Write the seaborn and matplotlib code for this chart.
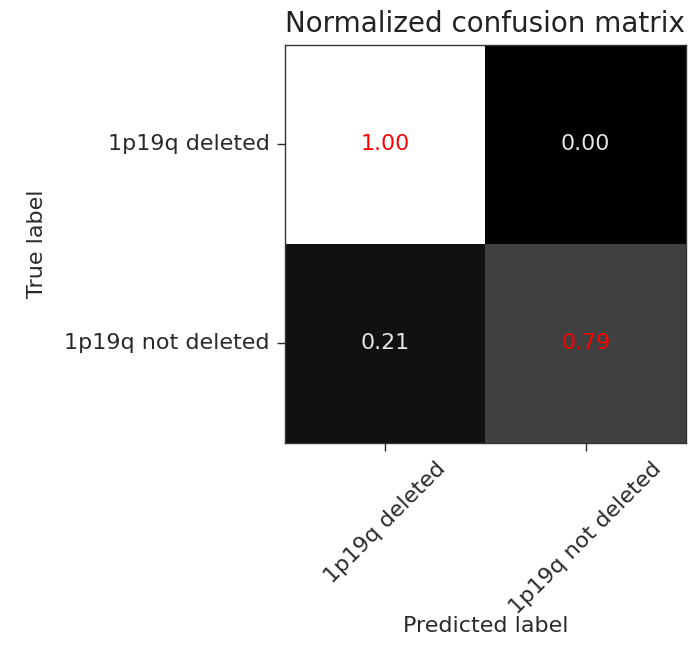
import matplotlib
matplotlib.use('Agg')
import matplotlib.pyplot as plt
import seaborn as sns
import numpy as np

classes = ['1p19q deleted', '1p19q not deleted']
# raw counts drive the grey shading, normalized values are printed
counts = np.array([[60, 0],
                   [4, 15]])
normalized = np.array([[1.00, 0.00],
                       [0.21, 0.79]])

fig = plt.figure(figsize=(6.88, 6.59), dpi=100)
ax = fig.add_axes([0.414, 0.328, 0.583, 0.604])

sns.heatmap(counts, cmap='gray', annot=normalized, fmt='.2f', cbar=False,
            square=False, ax=ax, annot_kws={'size': 15.8},
            xticklabels=classes, yticklabels=classes)

for t, (i, j) in zip(ax.texts, [(0, 0), (0, 1), (1, 0), (1, 1)]):
    t.set_color('red' if i == j else '#e8e8e8')

for s in ax.spines.values():
    s.set_visible(True)
    s.set_color('#333333')
    s.set_linewidth(1.0)

ax.tick_params(axis='both', length=6, width=1, pad=5, labelsize=16, colors='#2a2a2a')
plt.setp(ax.get_xticklabels(), rotation=45, ha='center')
plt.setp(ax.get_yticklabels(), rotation=0)

ax.set_title('Normalized confusion matrix', fontsize=20, color='#222222', pad=9)
ax.set_ylabel('True label', fontsize=16, color='#2a2a2a', labelpad=12)
ax.set_xlabel('Predicted label', fontsize=16, color='#2a2a2a', labelpad=-1)

plt.savefig('out.png', dpi=100)
